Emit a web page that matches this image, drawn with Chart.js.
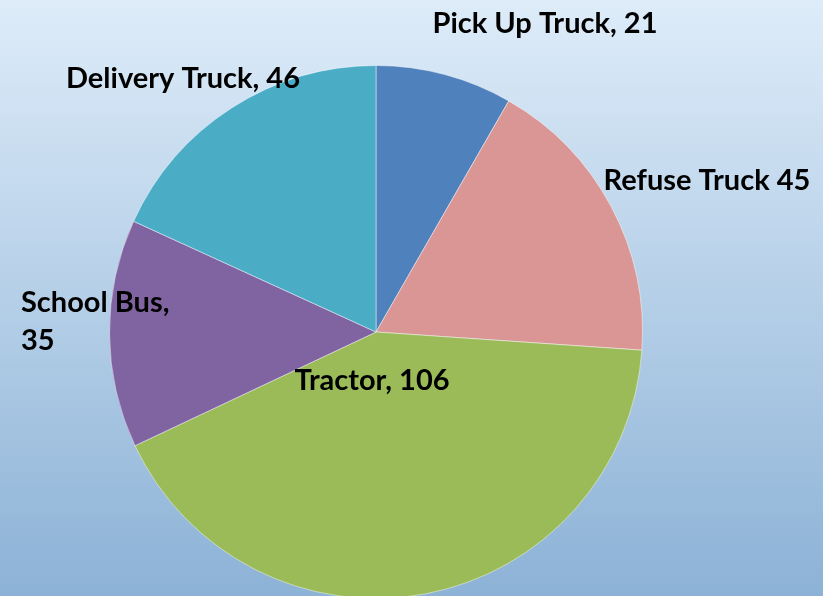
<!DOCTYPE html>
<html>
<head>
<meta charset="utf-8">
<script src="https://cdn.jsdelivr.net/npm/chart.js@4/dist/chart.umd.min.js"></script>
<style>
  html, body { margin: 0; padding: 0; overflow: hidden; width: 823px; height: 596px; }
  canvas { display: block; }
</style>
</head>
<body>
<canvas id="myChart" width="823" height="600"></canvas>
<script>
// vehicle counts, clockwise from 12 o'clock
var categories = ['Pick Up Truck', 'Refuse Truck', 'Tractor', 'School Bus', 'Delivery Truck'];
var counts = [21, 45, 106, 35, 46];
var labelText = [['Pick Up Truck, 21'], ['Refuse Truck 45'], ['Tractor, 106'], ['School Bus,', '35'], ['Delivery Truck, 46']];
var sliceColors = ['#4F81BD', '#DA9694', '#9BBB59', '#8064A2', '#4BACC6'];

// where each label sits, offset from the pie centre (excel-style manual placement)
var labelOffsets = [
    { dx: 169, dy: -299, align: 'center' },
    { dx: 331, dy: -142, align: 'center' },
    { dx: -4, dy: 58, align: 'center' },
    { dx: -355, dy: -20, align: 'left' },
    { dx: -193, dy: -244, align: 'center' }
];

var bgPlugin = {
    id: 'bg',
    beforeDraw: function (chart) {
        var ctx = chart.ctx;
        var g = ctx.createLinearGradient(0, 0, 0, 596);
        g.addColorStop(0, '#DEECF9');
        g.addColorStop(1, '#8CB2D6');
        ctx.save();
        ctx.fillStyle = g;
        ctx.fillRect(0, 0, chart.width, chart.height);
        ctx.restore();
    }
};

var labelPlugin = {
    id: 'sliceLabels',
    afterDatasetsDraw: function (chart) {
        var ctx = chart.ctx;
        var arcs = chart.getDatasetMeta(0).data;
        ctx.save();
        ctx.fillStyle = '#000';
        ctx.font = 'bold 29px Lato, "Liberation Sans", sans-serif';
        ctx.textBaseline = 'alphabetic';
        arcs.forEach(function (arc, i) {
            var o = labelOffsets[i];
            ctx.textAlign = o.align;
            labelText[i].forEach(function (line, j) {
                ctx.fillText(line, arc.x + o.dx, arc.y + o.dy + j * 38);
            });
        });
        ctx.restore();
    }
};

var ctxChart = document.getElementById('myChart').getContext('2d');
var myChart = new Chart(ctxChart, {
    type: 'pie',
    data: {
        labels: categories,
        datasets: [{
            data: counts,
            backgroundColor: sliceColors,
            borderColor: 'rgba(255, 255, 255, 0.45)',
            borderWidth: 1
        }]
    },
    options: {
        responsive: false,
        animation: false,
        layout: {
            padding: { left: 109, right: 180, top: 65, bottom: 1 }
        },
        plugins: {
            legend: { display: false },
            tooltip: { enabled: false }
        }
    },
    plugins: [bgPlugin, labelPlugin]
});
</script>
</body>
</html>
